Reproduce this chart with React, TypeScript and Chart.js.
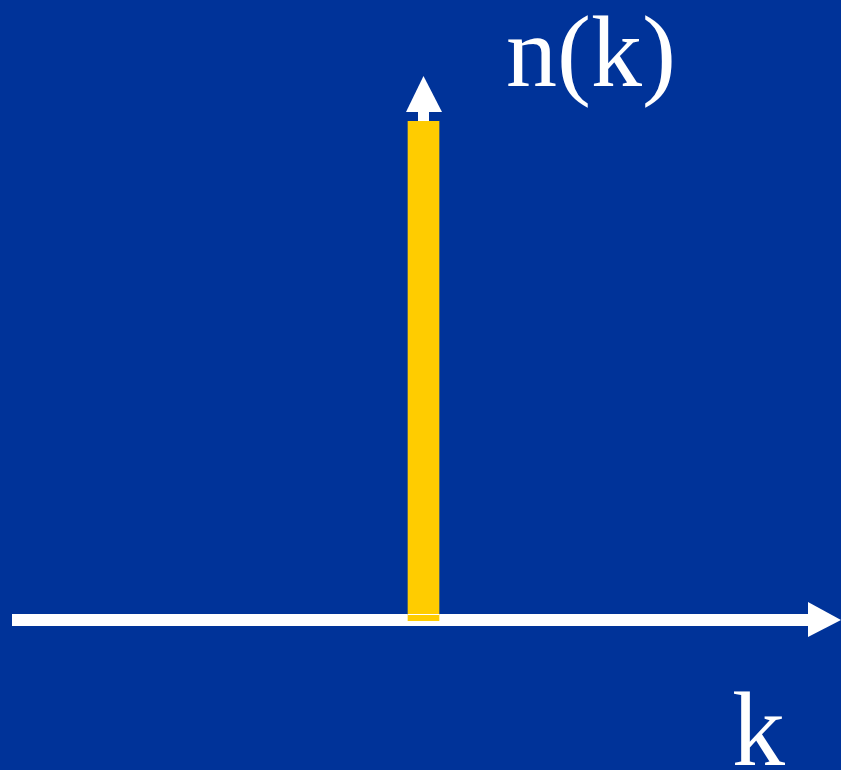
import React, { useEffect, useRef } from "react";
import { Chart, registerables } from "chart.js";

Chart.register(...registerables);

// Occupation number n(k): a single sharp peak at k0
const categories = ["k < k₀", "k₀", "k > k₀"];
const occupation = [0, 1, 0];
const yAxisLabel = "n(k)";
const xAxisLabel = "k";

const BG = "#003399";
const BAR = "#FFCC00";
const AXIS = "#FFFFFF";

export default function App() {
  const ref = useRef<HTMLCanvasElement>(null);

  useEffect(() => {
    document.body.style.margin = "0";
    const canvas = ref.current;
    if (!canvas) return;

    const arrowsPlugin = {
      id: "arrows",
      beforeDraw(chart: any) {
        const ctx = chart.ctx;
        ctx.save();
        ctx.fillStyle = BG;
        ctx.fillRect(0, 0, chart.width, chart.height);
        ctx.restore();
      },
      beforeDatasetsDraw(chart: any) {
        const ctx = chart.ctx;
        const xs = chart.scales.x;
        const ys = chart.scales.y;
        const area = chart.chartArea;
        const y0 = ys.getPixelForValue(0) - 1;
        const xc = xs.getPixelForValue(1);
        const yTop = ys.getPixelForValue(1);
        ctx.save();
        ctx.fillStyle = AXIS;
        // horizontal axis
        const headBase = chart.width - 33;
        ctx.fillRect(area.left, y0 - 6, headBase - area.left, 12);
        ctx.beginPath();
        ctx.moveTo(headBase, y0 - 18);
        ctx.lineTo(chart.width, y0);
        ctx.lineTo(headBase, y0 + 17);
        ctx.closePath();
        ctx.fill();
        // vertical arrow above the peak
        ctx.fillRect(xc - 5.5, yTop - 11, 11, 12);
        ctx.beginPath();
        ctx.moveTo(xc - 17.5, yTop - 9);
        ctx.lineTo(xc, yTop - 45);
        ctx.lineTo(xc + 18.5, yTop - 9);
        ctx.closePath();
        ctx.fill();
        ctx.restore();
      },
      afterDatasetsDraw(chart: any) {
        const ctx = chart.ctx;
        const xs = chart.scales.x;
        const ys = chart.scales.y;
        const xc = xs.getPixelForValue(1);
        const y0 = ys.getPixelForValue(0) - 1;
        ctx.save();
        ctx.fillStyle = AXIS;
        ctx.fillRect(xc - 15.5, y0 - 6, 31, 1);
        ctx.restore();
      },
      afterDraw(chart: any) {
        const ctx = chart.ctx;
        ctx.save();
        ctx.fillStyle = AXIS;
        ctx.textBaseline = "alphabetic";
        ctx.textAlign = "left";
        ctx.font = "102px 'Liberation Serif', 'DejaVu Serif', serif";
        ctx.fillText(yAxisLabel, 506, 86);
        ctx.font = "106px 'Liberation Serif', 'DejaVu Serif', serif";
        ctx.fillText(xAxisLabel, 732, 765);
        ctx.restore();
      },
    };

    const chart = new Chart(canvas, {
      type: "bar",
      data: {
        labels: categories,
        datasets: [
          {
            label: yAxisLabel,
            data: occupation,
            backgroundColor: (c: any) => (c.raw > 0 ? BAR : "rgba(0,0,0,0)"),
            borderWidth: 0,
            barThickness: 31,
          },
        ],
      },
      options: {
        responsive: false,
        animation: false,
        layout: { padding: { left: 12, right: 6, top: 121, bottom: 149 } },
        plugins: {
          legend: { display: false },
          tooltip: { enabled: false },
          title: { display: false },
        },
        scales: {
          x: { display: false, grid: { display: false } },
          y: { display: false, min: 0, max: 1, grid: { display: false } },
        },
      },
      plugins: [arrowsPlugin],
    });

    return () => chart.destroy();
  }, []);

  return (
    <div style={{ width: 841, height: 770, background: BG }}>
      <canvas ref={ref} width={841} height={770} style={{ display: "block" }} />
    </div>
  );
}
